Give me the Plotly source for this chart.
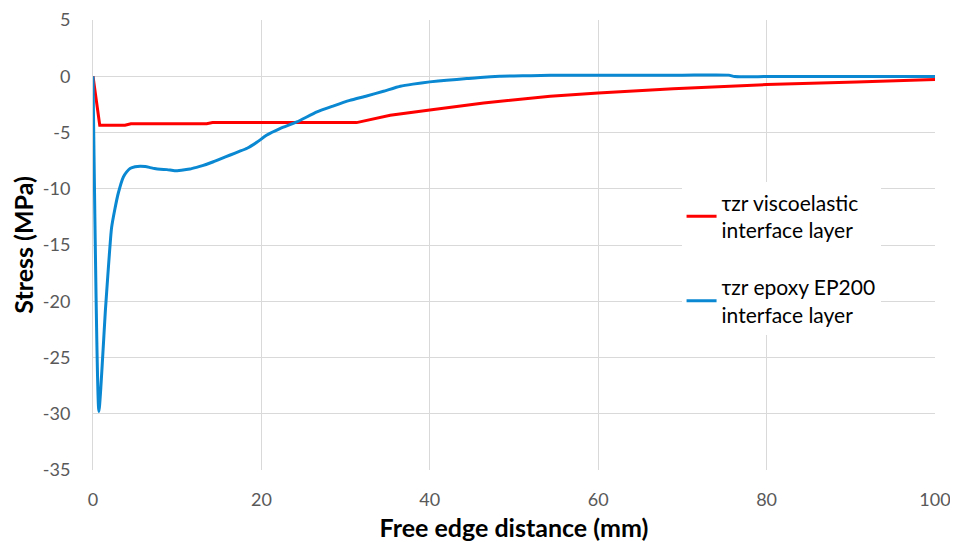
import plotly.graph_objects as go

# Data
visco_x = [0, 0.8, 3.8, 4.5, 13.5, 14.2, 31.3, 35.3, 40, 46.4, 54.3, 60, 68.9, 80, 90.7, 97.8, 100]
visco_y = [0, -4.36, -4.36, -4.22, -4.22, -4.12, -4.12, -3.47, -3.0, -2.37, -1.78, -1.48, -1.1, -0.74, -0.5, -0.3, -0.28]

epoxy_x = [0, 0.7, 1.5, 2.2, 2.6, 3.0, 3.6, 4.0, 4.4, 5.0, 5.6, 6.2, 6.7, 7.3, 8.0, 8.8, 9.7, 10.5, 11.5,
           12.3, 13.0, 14.3, 15.3, 16.3, 17.3, 18.3, 19.5, 20.6, 22.2, 24.2, 26.6, 28.5, 30.5, 32.5, 34.5,
           36.5, 38.0, 40, 42, 44.4, 46, 48.3, 50, 52, 54.3, 60, 70, 75.5, 76.2, 80, 90, 100]
epoxy_y = [0, -29.8, -20.5, -13.5, -11.8, -10.4, -8.96, -8.5, -8.2, -8.05, -8.0, -8.03, -8.1, -8.2, -8.27,
           -8.3, -8.4, -8.35, -8.25, -8.1, -7.95, -7.6, -7.3, -7.0, -6.7, -6.4, -5.85, -5.25, -4.65, -4.06,
           -3.17, -2.65, -2.14, -1.75, -1.33, -0.89, -0.7, -0.5, -0.35, -0.21, -0.1, 0, 0.02, 0.05, 0.09,
           0.1, 0.1, 0.1, -0.03, -0.03, -0.03, -0.03]

names = ["τzr viscoelastic<br>interface layer", "τzr epoxy EP200<br>interface layer"]
x_ticks = [0, 20, 40, 60, 80, 100]
y_ticks = [5, 0, -5, -10, -15, -20, -25, -30, -35]
y_labels = ["5", "0", "-5", "-10", "-15", "-20", "-25", "-30", "-35"]

FONT = "Lato, 'Open Sans', sans-serif"

fig = go.Figure()
fig.add_trace(go.Scatter(x=visco_x, y=visco_y, mode="lines", name=names[0], legendgroup="a",
                         line=dict(color="#ff0000", width=3)))
fig.add_trace(go.Scatter(x=epoxy_x, y=epoxy_y, mode="lines", name=names[1], legendgroup="b",
                         line=dict(color="#0a88d2", width=3, shape="spline", smoothing=0.5)))

# the page adds an 8px body margin, so the figure is 8px smaller and left/top margins offset
fig.update_layout(
    width=950, height=534,
    margin=dict(l=85, r=23, t=12, b=72),
    paper_bgcolor="white", plot_bgcolor="white",
    font=dict(family=FONT, color="#595959", size=18),
    legend=dict(x=0.699, y=0.639, xanchor="left", yanchor="top", bgcolor="white",
                font=dict(family=FONT, size=21, color="black"), tracegroupgap=27),
    xaxis=dict(range=[0, 100], tickvals=x_ticks, showgrid=True, gridcolor="#d9d9d9",
               zeroline=False, showline=False, ticks="", automargin=False, ticklabelstandoff=17,
               title=dict(text="<b>Free edge distance (mm)</b>", font=dict(size=25, color="black"), standoff=17)),
    yaxis=dict(range=[-35, 5], tickvals=y_ticks, ticktext=y_labels, showgrid=True, gridcolor="#d9d9d9",
               zeroline=False, showline=True, linecolor="#d9d9d9", ticks="", automargin=False,
               ticklabelstandoff=18,
               title=dict(text="<b>Stress (MPa)</b>", font=dict(size=25, color="black"), standoff=8)),
)

fig.write_html("out.html")
